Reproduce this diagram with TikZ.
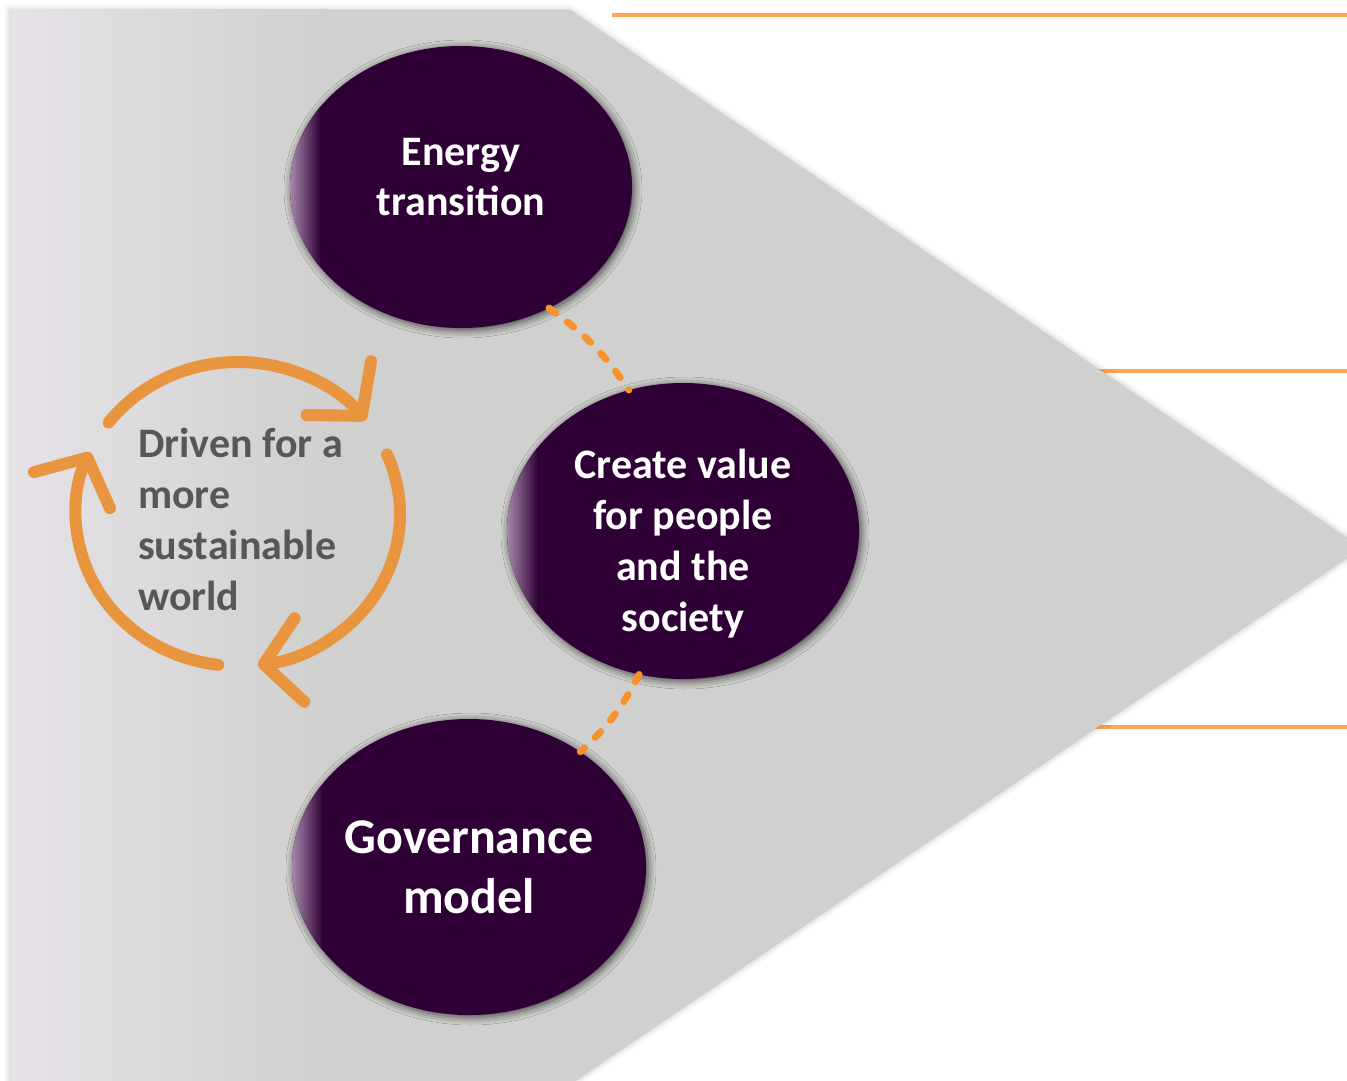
\documentclass[tikz,border=0pt]{standalone}
\usepackage{fontspec}
\setmainfont{Carlito}
\usepackage{tikz}
\usetikzlibrary{shapes.geometric, positioning, arrows.meta, shadows.blur}

\definecolor{darkplum}{HTML}{2F0035}
\definecolor{plumedge}{HTML}{A386A8}
\definecolor{panelgrey}{HTML}{D0D0CE}
\definecolor{panellight}{HTML}{E6E2E8}
\definecolor{panelmid}{HTML}{D3CDD4}
\definecolor{lineorange}{HTML}{FFA654}
\definecolor{dashorange}{HTML}{F7922A}
\definecolor{cycleorange}{HTML}{E9943F}
\definecolor{textgrey}{HTML}{575757}

\begin{document}
\begin{tikzpicture}[x=1pt, y=1pt, on grid,
    blob/.style={ellipse, fill=darkplum, inner sep=0pt,
      blur shadow={shadow xshift=2pt, shadow yshift=-2pt, shadow blur radius=8pt, shadow opacity=70},
      path picture={\foreach \k [evaluate=\k as \pct using 100-6.5*\k] in {0,...,14}
        \fill[plumedge!\pct!darkplum] ([xshift=\k*2pt]path picture bounding box.south west)
          rectangle ([xshift=\k*2pt+2.3pt]path picture bounding box.north west);}},
    blobtext/.style={text=white, align=center, inner sep=0pt},
    dashlink/.style={dashorange, line width=7pt, line cap=round, dash pattern=on 8pt off 15pt},
    cyclearrow/.style={cycleorange, line width=12pt, line cap=round,
      -{Straight Barb[length=36pt, width=84pt, round]}},
    rule/.style={lineorange, line width=4pt}]
        \useasboundingbox (0,0) rectangle (1347,-1081);

        % orange rules on the right
        \draw[rule] (612,-15) -- (1347,-15);
        \draw[rule] (1000,-371) -- (1347,-371);
        \draw[rule] (1000,-727) -- (1347,-727);

        % grey arrow panel
        \fill[panelgrey, blur shadow={shadow xshift=0pt, shadow yshift=0pt, shadow blur radius=6pt, shadow opacity=25}]
            (10,-10) -- (570,-10) -- (1362,-548) -- (562,-1090) -- (10,-1090) -- cycle;
        \shade[left color=panellight, middle color=panelmid, right color=panelgrey] (10,-10) rectangle (330,-1081);

        \node[blob, minimum width=342pt, minimum height=282pt] (energy) at (461,-187) {};
        \node[blob, minimum width=352pt, minimum height=296pt] (value) [below right=344pt and 222pt of energy] {};
        \node[blob, minimum width=354pt, minimum height=296pt] (governance) [below left=336pt and 214pt of value] {};

        \node[blobtext, font=\bfseries\fontsize{42}{50}\selectfont] (energylabel) at ([yshift=10pt]energy) {Energy\\transition};
        \node[blobtext, font=\bfseries\fontsize{42}{51}\selectfont] (valuelabel) at ([yshift=-13pt]value) {Create value\\for people\\and the\\society};
        \node[blobtext, font=\bfseries\fontsize{50}{60}\selectfont] (governancelabel) at (governance) {Governance\\model};

        \path[dashlink]
        (energy.-54) edge [bend left=10] (value.111)
        (value.-107) edge [bend left=10] (governance.46);

        % cycle around the text
        \coordinate (loop) at (238,-514);
        \draw[cyclearrow] ([shift={(143:162pt and 152pt)}]loop) arc[start angle=143, end angle=38, x radius=162, y radius=152];
        \draw[cyclearrow] ([shift={(23:162pt and 152pt)}]loop) arc[start angle=23, end angle=-83, x radius=162, y radius=152];
        \draw[cyclearrow] ([shift={(-97:162pt and 152pt)}]loop) arc[start angle=-97, end angle=-204, x radius=162, y radius=152];

        \node[anchor=west, inner sep=0pt, align=left, text=textgrey, font=\bfseries\fontsize{42}{51}\selectfont]
            (driven) at (138,-519) {Driven for a\\more\\sustainable\\world};
    \end{tikzpicture}
\end{document}
